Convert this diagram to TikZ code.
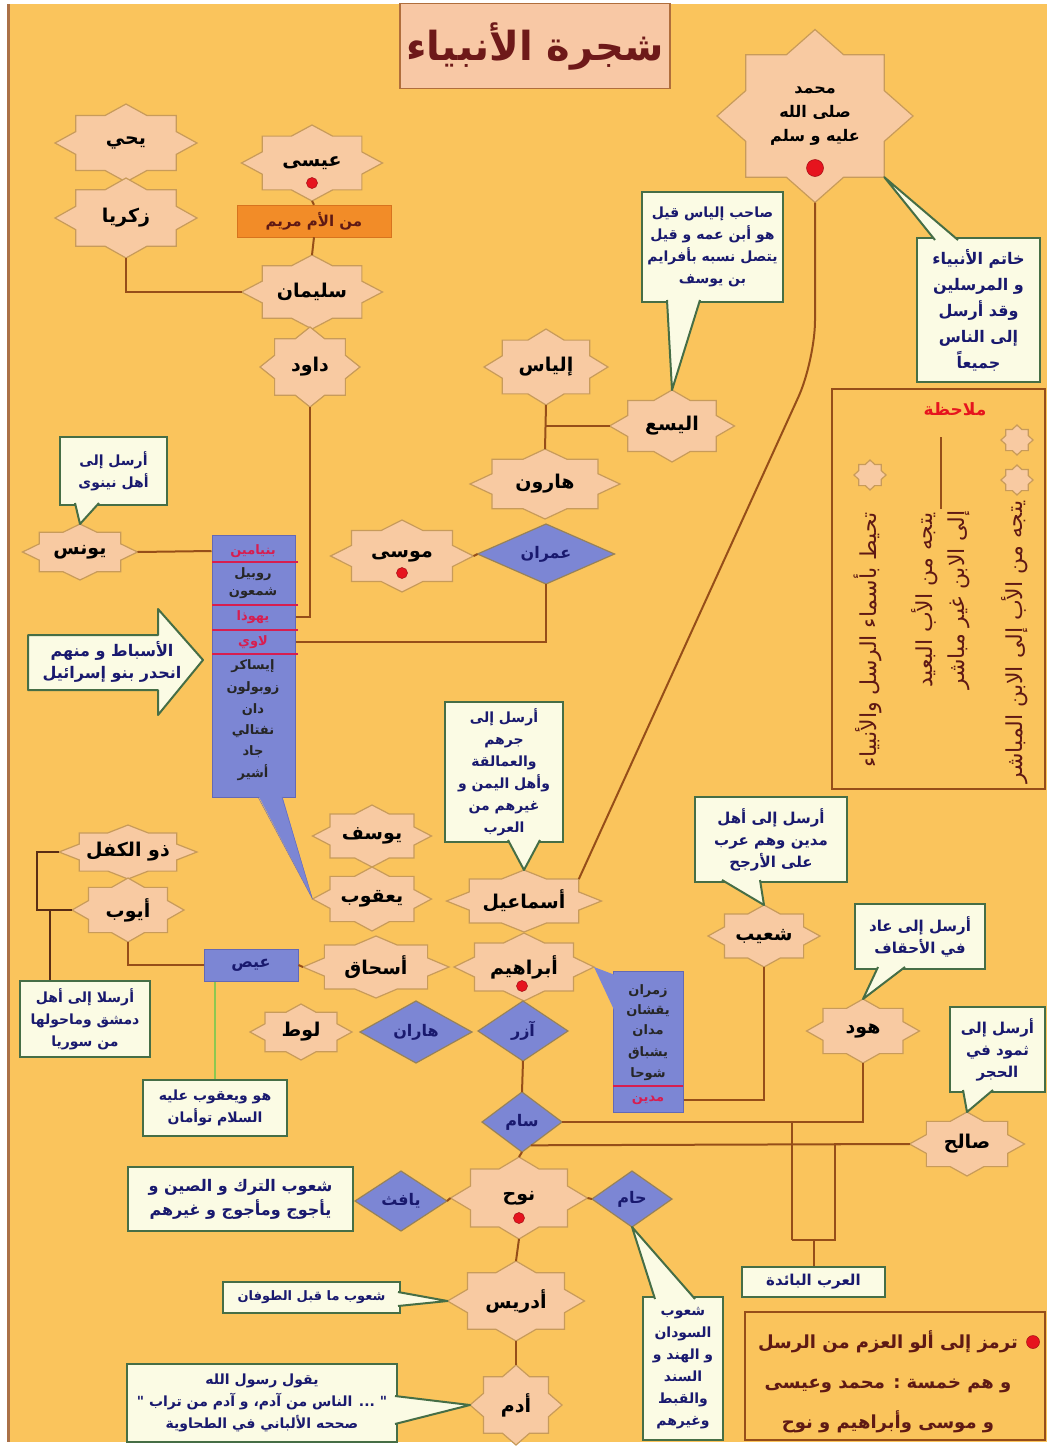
\documentclass[tikz,border=0pt]{standalone}
\usepackage{fontspec}
\newfontfamily\arabicfont[Script=Arabic]{DejaVu Sans}
\TeXXeTstate=1
\usetikzlibrary{shapes.geometric,calc}

\definecolor{bgorange}{RGB}{250,196,92}
\definecolor{starfill}{RGB}{248,202,162}
\definecolor{starline}{RGB}{200,155,90}
\definecolor{dia}{RGB}{124,134,212}
\definecolor{diaedge}{RGB}{100,105,180}
\definecolor{dialine}{RGB}{150,130,90}
\definecolor{linkc}{RGB}{150,78,25}
\definecolor{darklink}{RGB}{90,45,20}
\definecolor{cream}{RGB}{251,251,228}
\definecolor{callline}{RGB}{70,110,70}
\definecolor{navy}{RGB}{25,25,110}
\definecolor{tribered}{RGB}{215,30,80}
\definecolor{dotred}{RGB}{230,20,30}
\definecolor{maroon}{RGB}{95,25,20}
\definecolor{orangebox}{RGB}{242,140,40}
\definecolor{orangeedge}{RGB}{215,115,30}
\definecolor{titlefill}{RGB}{248,200,165}
\definecolor{titleline}{RGB}{176,110,60}
\definecolor{titlered}{RGB}{110,25,25}
\definecolor{twinline}{RGB}{140,200,80}

\newcommand{\artxt}[1]{\beginR #1\endR}
\newcommand{\namefont}{\arabicfont\bfseries\fontsize{19}{23}\selectfont}
\newcommand{\hintfont}{\arabicfont\bfseries\fontsize{14}{22}\selectfont}
\newcommand{\rowfont}{\arabicfont\bfseries\fontsize{13}{16}\selectfont}

% eight pointed star, stretched to the node box
\makeatletter
\pgfdeclareshape{nabistar}{%
  \inheritsavedanchors[from=rectangle]
  \inheritanchorborder[from=rectangle]
  \inheritanchor[from=rectangle]{center}
  \inheritanchor[from=rectangle]{north}
  \inheritanchor[from=rectangle]{south}
  \inheritanchor[from=rectangle]{east}
  \inheritanchor[from=rectangle]{west}
  \inheritanchor[from=rectangle]{north east}
  \inheritanchor[from=rectangle]{north west}
  \inheritanchor[from=rectangle]{south east}
  \inheritanchor[from=rectangle]{south west}
  \inheritanchor[from=rectangle]{text}
  \inheritanchor[from=rectangle]{mid}
  \inheritanchor[from=rectangle]{base}
  \backgroundpath{%
    \southwest \pgf@xa=\pgf@x \pgf@ya=\pgf@y
    \northeast \pgf@xb=\pgf@x \pgf@yb=\pgf@y
    \pgf@xc=.5\pgf@xa \advance\pgf@xc by .5\pgf@xb
    \pgf@yc=.5\pgf@ya \advance\pgf@yc by .5\pgf@yb
    \advance\pgf@xb by -\pgf@xc
    \advance\pgf@yb by -\pgf@yc
    \edef\nb@cx{\the\pgf@xc}\edef\nb@cy{\the\pgf@yc}%
    \edef\nb@a{\the\pgf@xb}\edef\nb@b{\the\pgf@yb}%
    \pgfpathmoveto{\pgfpoint{\nb@cx+\nb@a}{\nb@cy}}%
    \nb@pt{.7071}{.2929}\nb@pt{.7071}{.7071}\nb@pt{.2929}{.7071}\nb@pt{0}{1}%
    \nb@pt{-.2929}{.7071}\nb@pt{-.7071}{.7071}\nb@pt{-.7071}{.2929}\nb@pt{-1}{0}%
    \nb@pt{-.7071}{-.2929}\nb@pt{-.7071}{-.7071}\nb@pt{-.2929}{-.7071}\nb@pt{0}{-1}%
    \nb@pt{.2929}{-.7071}\nb@pt{.7071}{-.7071}\nb@pt{.7071}{-.2929}%
    \pgfpathclose
  }%
}
\def\nb@pt#1#2{\pgfpathlineto{\pgfpoint{\nb@cx+(#1)*\nb@a}{\nb@cy+(#2)*\nb@b}}}
\makeatother

\tikzset{
  nabi/.style 2 args={shape=nabistar, fill=starfill, draw=starline, line width=1.2pt,
    inner sep=0pt, outer sep=0pt, minimum width=#1pt, minimum height=#2pt, font=\namefont},
  abu/.style 2 args={diamond, shape aspect=1.4, fill=dia, draw=dialine, line width=1.2pt,
    inner sep=1pt, outer sep=0pt, minimum width=#1pt, minimum height=#2pt,
    font=\arabicfont\bfseries\fontsize{16}{20}\selectfont, text=navy},
  hint/.style 2 args={rectangle, fill=cream, draw=callline, line width=2pt, inner sep=2pt,
    minimum width=#1pt, minimum height=#2pt, align=center, font=\hintfont, text=navy},
  bluebox/.style 2 args={rectangle, fill=dia, draw=diaedge, line width=1pt,
    minimum width=#1pt, minimum height=#2pt},
  branch/.style={draw=linkc, line width=2pt},
  darkbranch/.style={draw=darklink, line width=2pt},
  reddot/.style={circle, fill=dotred, draw=dotred!70!black, line width=.5pt, inner sep=0pt, minimum size=#1pt},
  tribe/.style={font=\rowfont, inner sep=1pt, text=black!85},
  redrule/.style={draw=tribered, line width=1.2pt},
  notetxt/.style={font=\arabicfont\fontsize{22}{32}\selectfont, text=maroon, inner sep=1pt},
}

\newcommand{\calltail}[3]{%
  \fill[cream] #1 -- #2 -- #3 -- cycle;
  \draw[callline, line width=2pt, line join=round] #1 -- #2 -- #3;}

\begin{document}
\begin{tikzpicture}[x=1pt,y=-1pt]
\useasboundingbox (0,0) rectangle (1050,1446);
\fill[white] (0,0) rectangle (1050,1446);
\fill[bgorange] (8,4) rectangle (1047,1442);
\draw[linkc!80, line width=3pt] (8,4) -- (8,1442);

% title
\node[fill=titlefill, draw=titleline, line width=1.5pt, minimum width=270pt, minimum height=85pt,
  font=\arabicfont\bfseries\fontsize{40}{44}\selectfont, text=titlered] (title) at (535,46) {\artxt{شجرة الأنبياء}};

% Isa, Zakariya, Yahya
\node[nabi={142}{78}] (yahya) at (126,143) {\artxt{يحي}};
\node[nabi={142}{80}] (zakariya) at (126,218) {\artxt{زكريا}};
\node[nabi={141}{76}] (isa) at (312,163) {\artxt{عيسى}};
\node[reddot=11] (isadot) at (312,183) {};
\node[fill=orangebox, draw=orangeedge, minimum width=154pt, minimum height=32pt,
  font=\arabicfont\bfseries\fontsize{15}{18}\selectfont, text=maroon] (maryam) at (314,221) {\artxt{من الأم مريم}};
\node[nabi={141}{74}] (sulayman) at (312,292) {\artxt{سليمان}};
\node[nabi={100}{80}] (dawud) at (310,367) {\artxt{داود}};

% Harun, Musa
\node[nabi={124}{76}] (ilyas) at (546,367) {\artxt{إلياس}};
\node[nabi={125}{72}] (alyasa) at (672,426) {\artxt{اليسع}};
\node[nabi={150}{70}] (harun) at (545,484) {\artxt{هارون}};
\node[abu={137}{60}] (imran) at (546,554) {\artxt{عمران}};
\node[nabi={143}{72}] (musa) at (402,556) {\artxt{موسى}};
\node[reddot=11] (musadot) at (402,573) {};
\node[nabi={115}{56}] (yunus) at (80,552) {\artxt{يونس}};

% Muhammad
\node[nabi={196}{173}, align=center, font=\arabicfont\bfseries\fontsize{16}{24}\selectfont] (muhammad) at (815,116)
  {\artxt{محمد}\\\artxt{صلى الله}\\\artxt{عليه و سلم}};
\node[reddot=17] (muhammaddot) at (815,168) {};

% the tribes
\node[bluebox={83}{262}] (asbat) at (253.5,666) {};
\node[tribe, text=tribered] (binyamin) at (253,551) {\artxt{بنيامين}};
\node[tribe] (rubil) at (253,574) {\artxt{روبيل}};
\node[tribe] (shimun) at (253,593) {\artxt{شمعون}};
\node[tribe, text=tribered] (yahuda) at (253,617) {\artxt{يهوذا}};
\node[tribe, text=tribered] (lawi) at (253,642) {\artxt{لاوي}};
\node[tribe] (issakar) at (253,666) {\artxt{إيساكر}};
\node[tribe] (zabulun) at (253,688) {\artxt{زوبولون}};
\node[tribe] (dan) at (253,710) {\artxt{دان}};
\node[tribe] (naftali) at (253,731) {\artxt{نفتالي}};
\node[tribe] (jad) at (253,752) {\artxt{جاد}};
\node[tribe] (ashir) at (253,773) {\artxt{أشير}};
\foreach \yy in {562,605,630,654} \draw[redrule] (212,\yy) -- (298,\yy);

% arrow
\draw[callline, fill=cream, line width=2pt, line join=round] (28,635) -- (158,635) -- (158,609) -- (203,660)
  -- (158,715) -- (158,690) -- (28,690) -- cycle;
\node[font=\arabicfont\bfseries\fontsize{16}{22}\selectfont, text=navy, align=center] (asbatnote) at (112,662)
  {\artxt{الأسباط و منهم}\\\artxt{انحدر بنو إسرائيل}};

% Ibrahim
\node[nabi={119}{62}] (yusuf) at (372,836) {\artxt{يوسف}};
\node[nabi={119}{64}] (yaqub) at (372,899) {\artxt{يعقوب}};
\node[nabi={155}{62}] (ismail) at (524,901) {\artxt{أسماعيل}};
\node[nabi={140}{68}] (ibrahim) at (524,967) {\artxt{أبراهيم}};
\node[reddot=11] (ibrahimdot) at (522,986) {};
\node[nabi={146}{62}] (ishaq) at (376,967) {\artxt{أسحاق}};
\node[bluebox={94}{32}, font=\arabicfont\bfseries\fontsize{16}{20}\selectfont, text=navy] (eis) at (251,965) {\artxt{عيص}};
\node[nabi={138}{54}] (dhulkifl) at (128,852) {\artxt{ذو الكفل}};
\node[nabi={112}{64}] (ayyub) at (128,910) {\artxt{أيوب}};
\node[nabi={102}{56}] (lut) at (301,1032) {\artxt{لوط}};
\node[abu={112}{62}] (haran) at (416,1032) {\artxt{هاران}};
\node[abu={90}{60}] (azar) at (523,1031) {\artxt{آزر}};

% sons of Ibrahim
\node[bluebox={70}{141}] (kids) at (648,1041.5) {};
\node[tribe] (zimran) at (648,991) {\artxt{زمران}};
\node[tribe] (yaqshan) at (648,1011) {\artxt{يقشان}};
\node[tribe] (madan) at (648,1031) {\artxt{مدان}};
\node[tribe] (yishbaq) at (648,1053) {\artxt{يشباق}};
\node[tribe] (shuah) at (648,1074) {\artxt{شوحا}};
\node[tribe, text=tribered] (madyan) at (648,1100) {\artxt{مدين}};
\draw[redrule] (613,1086) -- (683,1086);

% Arab prophets
\node[nabi={112}{62}] (shuayb) at (764,936) {\artxt{شعيب}};
\node[nabi={113}{64}] (hud) at (863,1031) {\artxt{هود}};
\node[nabi={115}{64}] (salih) at (967,1144) {\artxt{صالح}};

% Nuh
\node[abu={80}{60}] (sam) at (522,1122) {\artxt{سام}};
\node[nabi={137}{82}] (nuh) at (519,1198) {\artxt{نوح}};
\node[reddot=11] (nuhdot) at (519,1218) {};
\node[abu={92}{60}] (yafith) at (401,1201) {\artxt{يافث}};
\node[abu={80}{56}] (ham) at (632,1199) {\artxt{حام}};
\node[nabi={137}{80}] (idris) at (516,1301) {\artxt{أدريس}};
\node[nabi={92}{80}] (adam) at (516,1405) {\artxt{أدم}};

% notes
\node[hint={107}{68}] (yunusnote) at (113.5,471) {\artxt{أرسل إلى}\\\artxt{أهل نينوى}};
\node[hint={141}{110}] (alyasanote) at (712.5,247)
  {\artxt{صاحب إلياس قيل}\\\artxt{هو أبن عمه و قيل}\\\artxt{يتصل نسبه بأفرايم}\\\artxt{بن يوسف}};
\node[hint={123}{144}, font=\arabicfont\bfseries\fontsize{16}{26}\selectfont] (muhammadnote) at (978.5,310)
  {\artxt{خاتم الأنبياء}\\\artxt{و المرسلين}\\\artxt{وقد أرسل}\\\artxt{إلى الناس}\\\artxt{جميعاً}};
\node[hint={118}{140}] (ismailnote) at (504,772)
  {\artxt{أرسل إلى}\\\artxt{جرهم}\\\artxt{والعمالقة}\\\artxt{وأهل اليمن و}\\\artxt{غيرهم من}\\\artxt{العرب}};
\node[hint={152}{85}, font=\arabicfont\bfseries\fontsize{15}{22}\selectfont] (shuaybnote) at (771,839.5)
  {\artxt{أرسل إلى أهل}\\\artxt{مدين وهم عرب}\\\artxt{على الأرجح}};
\node[hint={130}{65}, font=\arabicfont\bfseries\fontsize{15}{22}\selectfont] (hudnote) at (920,936.5)
  {\artxt{أرسل إلى عاد}\\\artxt{في الأحقاف}};
\node[hint={95}{85}, font=\arabicfont\bfseries\fontsize{15}{22}\selectfont] (salihnote) at (997.5,1049.5)
  {\artxt{أرسل إلى}\\\artxt{ثمود في}\\\artxt{الحجر}};
\node[hint={130}{76}] (ayyubnote) at (85,1019) {\artxt{أرسلا إلى أهل}\\\artxt{دمشق وماحولها}\\\artxt{من سوريا}};
\node[hint={144}{56}] (twins) at (215,1108) {\artxt{هو ويعقوب عليه}\\\artxt{السلام توأمان}};
\node[hint={225}{64}, font=\arabicfont\bfseries\fontsize{16}{24}\selectfont] (yafithnote) at (240.5,1199)
  {\artxt{شعوب الترك و الصين و}\\\artxt{يأجوج ومأجوج و غيرهم}};
\node[hint={177}{31}, font=\arabicfont\bfseries\fontsize{13}{16}\selectfont] (idrisnote) at (311.5,1297.5) {\artxt{شعوب ما قبل الطوفان}};
\node[hint={270}{78}] (adamnote) at (262,1403)
  {\artxt{يقول رسول الله}\\\artxt{" ... الناس من آدم\kern0pt، و آدم من تراب "}\\\artxt{صححه الألباني في الطحاوية}};
\node[hint={80}{143}] (hamnote) at (683,1368.5)
  {\artxt{شعوب}\\\artxt{السودان}\\\artxt{و الهند و}\\\artxt{السند}\\\artxt{والقبط}\\\artxt{وغيرهم}};
\node[hint={143}{30}, font=\arabicfont\bfseries\fontsize{15}{18}\selectfont] (arab) at (813.5,1282) {\artxt{العرب البائدة}};

% key
\node[draw=linkc, line width=2pt, minimum width=213pt, minimum height=400pt] (notebox) at (938.5,589) {};
\node[font=\arabicfont\bfseries\fontsize{17}{20}\selectfont, text=dotred] (mulahaza) at (955,409) {\artxt{ملاحظة}};
\node[nabi={32}{30}] (icona) at (1017,440) {};
\node[nabi={32}{30}] (iconb) at (1017,480) {};
\node[nabi={32}{30}] (iconc) at (870,475) {};
\node[notetxt, rotate=90] (direct) at (1015,642) {\artxt{يتجه من الأب إلى الابن المباشر}};
\node[notetxt, rotate=90, align=center] (indirect) at (941,600) {\artxt{يتجه من الأب البعيد}\\\artxt{إلى الابن غير مباشر}};
\draw[branch] (indirect.east) -- ++(0,-72);
\node[notetxt, rotate=90] (around) at (868,640) {\artxt{تحيط بأسماء الرسل والأنبياء}};

\node[draw=linkc, line width=2pt, minimum width=300pt, minimum height=128pt] (legend) at (895,1376) {};
\node[font=\arabicfont\bfseries\fontsize{18}{40}\selectfont, text=maroon, align=center] (legendtxt) at (888,1382)
  {\artxt{ترمز إلى ألو العزم من الرسل}\\\artxt{و هم خمسة : محمد وعيسى}\\\artxt{و موسى وأبراهيم و نوح}};
\node[reddot=13] (legenddot) at (1033,1342) {};

% branches
\draw[branch] (isa.south) -- (maryam.north);
\draw[branch] (maryam.south) -- (sulayman.north);
\draw[branch] (zakariya.south) |- (sulayman.west);
\draw[branch] (dawud.south) |- (yahuda -| asbat.east);
\draw[branch] (yunus.east) -- (binyamin -| asbat.west);
\draw[branch] (ilyas.south) -- (harun.north);
\draw[branch] (alyasa.west) -- (alyasa.west -| ilyas.south);
\draw[branch] (musa.east) -- (imran.west);
\draw[branch] (imran.south) |- (lawi -| asbat.east);
\draw[branch, rounded corners=40pt] (muhammad.south) -- ++(0,158) -- ($(ismail.center)!0.7071!(ismail.north east)$);
\draw[branch] (ayyub.south) |- (eis.west);
\draw[branch] (eis.east) -- (ishaq.west);
\draw[twinline, line width=2pt] (twins.north |- eis.south) -- (twins.north);
\draw[darkbranch] (dhulkifl.west) -- ++(-22,0) |- (ayyub.west);
\draw[darkbranch] ([xshift=-35pt]ayyubnote.north) -- ++(0,-71);
\draw[branch] (azar.south) -- (sam.north);
\draw[branch] (sam.south) -- (nuh.north);
\draw[branch] (nuh.west) -- (yafith.east);
\draw[branch] (nuh.east) -- (ham.west);
\draw[branch] (nuh.south) -- (idris.north);
\draw[branch] (idris.south) -- (adam.north);
\draw[branch] (madyan -| kids.east) -| (shuayb.south);
\draw[branch] (sam.east) -| (hud.south);
\draw[branch] (sam.-69) -- (salih.west);
\draw[branch] (arab.north) -- ++(0,-26) coordinate (fork);
\draw[branch] ([xshift=-22pt]fork) |- (sam.east);
\draw[branch] ([xshift=-22pt]fork) -- ([xshift=21pt]fork) |- (salih.west);

% pointers
\fill[dia] (258,795) -- (yaqub.west) -- (282,795) -- cycle;
\draw[diaedge] (258,797) -- (yaqub.west) -- (282,797);
\fill[dia] (615,975) -- (ibrahim.east) -- (615,1012) -- cycle;
\calltail{(75,503)}{(yunus.north)}{(99,503)}
\calltail{(667,300)}{(alyasa.north)}{(700,300)}
\calltail{(935,240)}{($(muhammad.center)!0.7071!(muhammad.south east)$)}{(958,240)}
\calltail{(508,840)}{(ismail.north)}{(540,840)}
\calltail{(722,880)}{(shuayb.north)}{(760,880)}
\calltail{(878,967)}{(hud.north)}{(905,967)}
\calltail{(963,1090)}{(salih.north)}{(993,1090)}
\calltail{(655,1299)}{(ham.south)}{(695,1299)}
\calltail{(398,1292)}{(idris.west)}{(398,1306)}
\calltail{(395,1396)}{(adam.west)}{(395,1424)}
\end{tikzpicture}
\end{document}
